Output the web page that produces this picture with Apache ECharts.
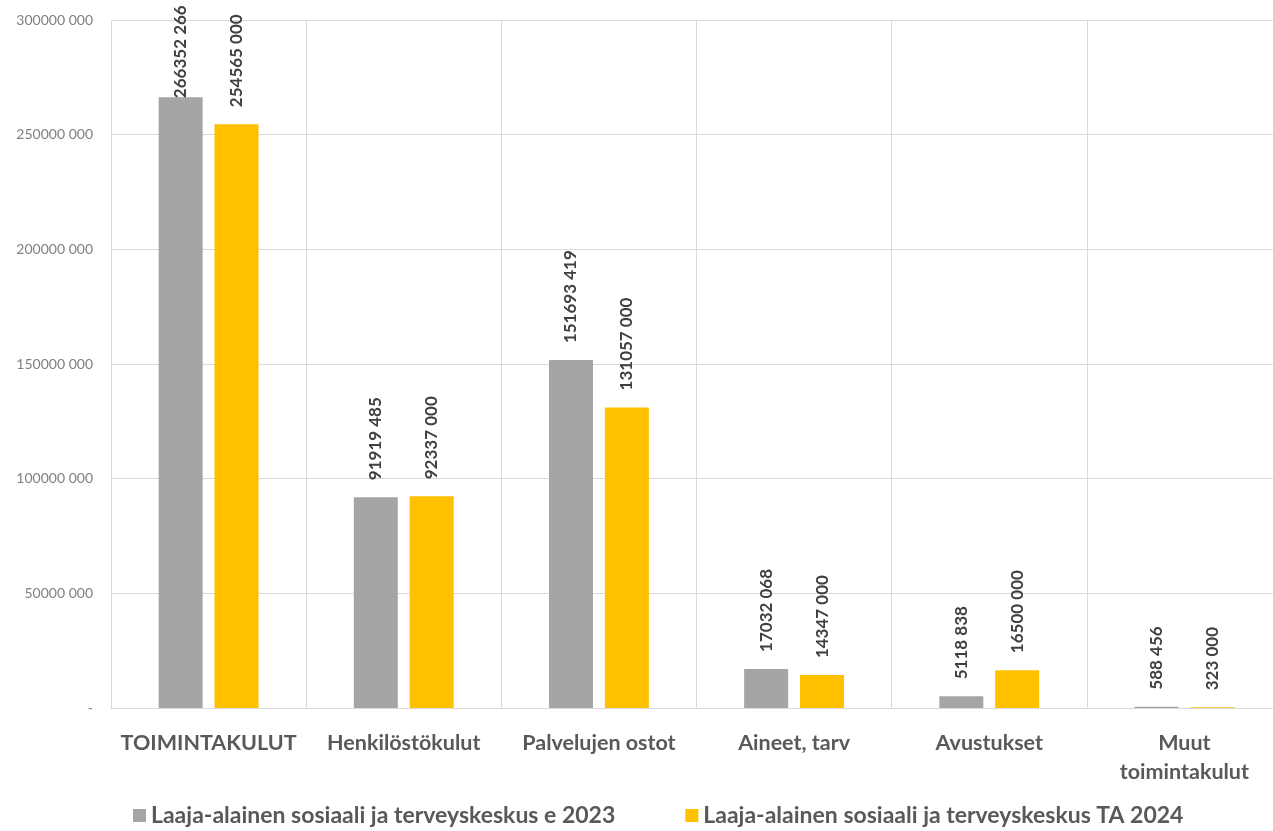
<!DOCTYPE html>
<html>
<head>
<meta charset="utf-8">
<script src="https://cdn.jsdelivr.net/npm/echarts@6/dist/echarts.min.js"></script>
<style>html,body{margin:0;padding:0;background:#fff;overflow:hidden;}#c{width:1273px;height:831px;}</style>
</head>
<body>
<div id="c"></div>
<script>
const categories = ['TOIMINTAKULUT', 'Henkilöstökulut', 'Palvelujen ostot', 'Aineet, tarv', 'Avustukset', 'Muut\ntoimintakulut'];
const seriesNames = ['Laaja-alainen sosiaali ja terveyskeskus e 2023', 'Laaja-alainen sosiaali ja terveyskeskus TA 2024'];
const values2023 = [266352266, 91919485, 151693419, 17032068, 5118838, 588456];
const values2024 = [254565000, 92337000, 131057000, 14347000, 16500000, 323000];
const yTicks = { min: 0, max: 300000000, interval: 50000000 };

function fmt(v) {
  if (v === 0) return '-';
  const s = String(Math.round(v));
  if (s.length <= 3) return s;
  return s.slice(0, -3) + ' ' + s.slice(-3);
}

const FONT = 'Lato, "Open Sans", sans-serif';
const chart = echarts.init(document.getElementById('c'));

function labelCfg() {
  return {
    show: true, position: 'top', rotate: 90, align: 'left', verticalAlign: 'middle',
    distance: 17, formatter: p => fmt(p.value), color: '#404040', fontSize: 17,
    fontWeight: 'bold', fontFamily: FONT
  };
}

const d2023 = values2023.map((v, i) => i === 0 ? { value: v, label: { distance: -1 } } : v);

chart.setOption({
  animation: false,
  grid: { left: 111, width: 1171, top: 20, bottom: 123, containLabel: false, outerBoundsMode: 'none' },
  legend: {
    bottom: -1, left: 128, itemGap: 70, icon: 'rect', itemWidth: 13, itemHeight: 13,
    textStyle: { fontSize: 23, color: '#595959', fontFamily: FONT, fontWeight: 'bold' },
    data: seriesNames
  },
  xAxis: {
    type: 'category', data: categories,
    axisLine: { lineStyle: { color: '#d9d9d9' } },
    axisTick: { show: false },
    splitLine: { show: true, lineStyle: { color: '#d9d9d9' } },
    axisLabel: { interval: 0, fontSize: 21.5, fontWeight: 'bold', color: '#595959', margin: 21, lineHeight: 29, fontFamily: FONT }
  },
  yAxis: {
    type: 'value', min: yTicks.min, max: yTicks.max, interval: yTicks.interval,
    axisLine: { show: false }, axisTick: { show: false },
    splitLine: { lineStyle: { color: '#d9d9d9' } },
    axisLabel: { formatter: fmt, fontSize: 14, color: '#808080', margin: 18, fontFamily: FONT }
  },
  series: [
    { name: seriesNames[0], type: 'bar', data: d2023, barWidth: 44, barGap: '27%', itemStyle: { color: '#a5a5a5' }, label: labelCfg() },
    { name: seriesNames[1], type: 'bar', data: values2024, barWidth: 44, barGap: '27%', itemStyle: { color: '#ffc000' }, label: labelCfg() }
  ]
});
</script>
</body>
</html>
